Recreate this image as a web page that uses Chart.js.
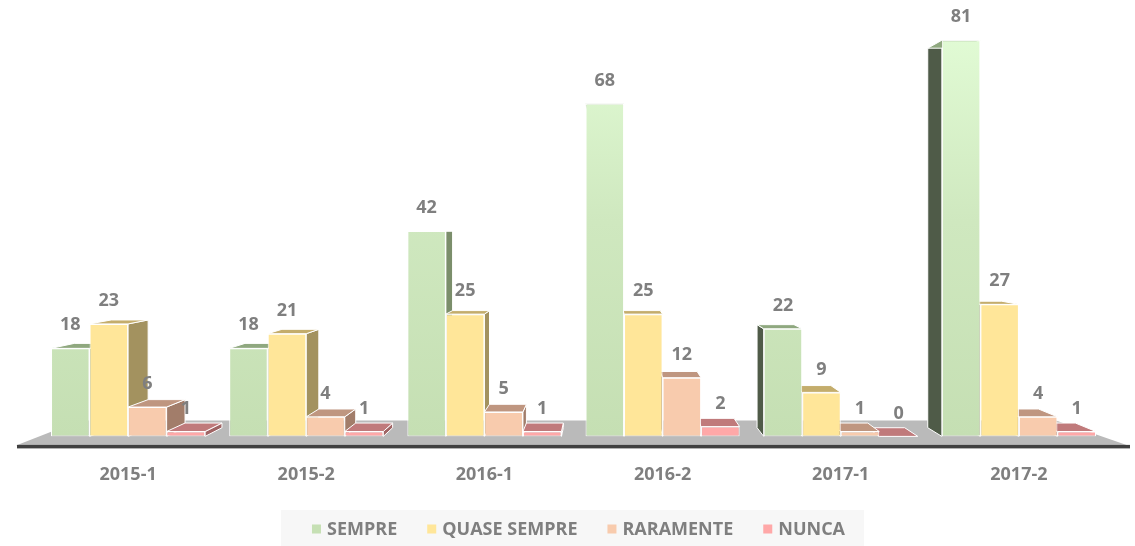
<!DOCTYPE html>
<html>
<head>
<meta charset="utf-8">
<script src="https://cdn.jsdelivr.net/npm/chart.js@4.4.1/dist/chart.umd.min.js"></script>
<style>
html, body { margin: 0; padding: 0; background: #fff; }
#wrap { width: 1135px; height: 546px; }
</style>
</head>
<body>
<div id="wrap"><canvas id="chart"></canvas></div>
<script>
const periodos = ['2015-1', '2015-2', '2016-1', '2016-2', '2017-1', '2017-2'];
const series = ['SEMPRE', 'QUASE SEMPRE', 'RARAMENTE', 'NUNCA'];
const sempre = [18, 18, 42, 68, 22, 81];
const quaseSempre = [23, 21, 25, 25, 9, 27];
const raramente = [6, 4, 5, 12, 1, 4];
const nunca = [1, 1, 1, 2, 0, 1];

const FONT = "'Open Sans', 'DejaVu Sans', sans-serif";
const GREY = '#7f7f7f';

// front, top, right side (lit), left side (shadow)
const cores = [
  { front: '#c6e0b4', top: '#8fa87f', right: '#7b8e6b', left: '#4f5b48' },
  { front: '#ffe699', top: '#c4ad6c', right: '#a3925f', left: '#6e6340' },
  { front: '#f8cbad', top: '#bf9680', right: '#a27d6a', left: '#6f5547' },
  { front: '#ffa8a8', top: '#c07a7b', right: '#a06464', left: '#6e4545' }
];

// perspective: eye point as fraction of chart area, depth factor
const EYE_X = 0.53;
const EYE_Y = 0.52;
const DEPTH = 0.042;

function greenFill(ctx) {
  const a = ctx.chart.chartArea;
  if (!a) return cores[0].front;
  const g = ctx.chart.ctx.createLinearGradient(0, a.top, 0, a.bottom);
  g.addColorStop(0, '#e4fed8');
  g.addColorStop(0.5, '#cfe8bf');
  g.addColorStop(1, '#c5dfb3');
  return g;
}

const bars3d = {
  id: 'bars3d',
  beforeDatasetsDraw(chart) {
    const { ctx, chartArea: a } = chart;
    const base = chart.scales.y.getPixelForValue(0);
    const vx = a.left + (a.right - a.left) * EYE_X;
    const vy = a.top + (a.bottom - a.top) * EYE_Y;
    const proj = (px, py) => [px + DEPTH * (vx - px), py + DEPTH * (vy - py)];

    // floor slab and front edge
    ctx.save();
    ctx.fillStyle = '#bababa';
    ctx.beginPath();
    ctx.moveTo(a.left - 23, base + 9);
    ctx.lineTo(a.left + 41, base - 16);
    ctx.lineTo(a.right - 52, base - 16);
    ctx.lineTo(a.right + 20, base + 9);
    ctx.closePath();
    ctx.fill();
    ctx.fillStyle = '#404040';
    ctx.fillRect(a.left - 22, base + 8.5, a.right - a.left + 44, 3.5);

    // side and top faces, drawn from the outside in
    const items = [];
    chart.data.datasets.forEach((ds, i) => {
      chart.getDatasetMeta(i).data.forEach(el => items.push({ el, c: cores[i] }));
    });
    items.sort((p, q) => Math.abs(q.el.x - vx) - Math.abs(p.el.x - vx));
    ctx.strokeStyle = '#ffffff';
    ctx.lineWidth = 1;
    ctx.lineJoin = 'round';
    items.forEach(({ el, c }) => {
      const l = el.x - el.width / 2, r = el.x + el.width / 2;
      const t = el.y, b = el.base;
      const poly = (pts, fill) => {
        ctx.beginPath();
        ctx.moveTo(pts[0][0], pts[0][1]);
        pts.slice(1).forEach(p => ctx.lineTo(p[0], p[1]));
        ctx.closePath();
        ctx.fillStyle = fill;
        ctx.fill();
        ctx.stroke();
      };
      if (r < vx) poly([[r, t], proj(r, t), proj(r, b), [r, b]], c.right);
      if (l > vx) poly([[l, t], proj(l, t), proj(l, b), [l, b]], c.left);
      poly([[l, t], [r, t], proj(r, t), proj(l, t)], c.top);
    });
    ctx.restore();
  },
  afterDatasetsDraw(chart) {
    const { ctx } = chart;
    ctx.save();
    ctx.font = `bold 18px ${FONT}`;
    ctx.fillStyle = GREY;
    ctx.textAlign = 'center';
    ctx.textBaseline = 'middle';
    chart.data.datasets.forEach((ds, i) => {
      chart.getDatasetMeta(i).data.forEach((el, j) => {
        ctx.fillText(String(ds.data[j]), el.x, el.y - 23);
      });
    });
    ctx.restore();
  },
  afterDraw(chart) {
    // legend strip under the axis
    const { ctx, chartArea: a } = chart;
    ctx.save();
    ctx.font = `bold 18px ${FONT}`;
    const box = 9, gapText = 6, gapItem = 30;
    const widths = series.map(s => ctx.measureText(s).width);
    const total = widths.reduce((s, w) => s + box + gapText + w, 0) + gapItem * (series.length - 1);
    const cx = (a.left + a.right) / 2 + 5;
    let x = cx - total / 2;
    const midY = 529;
    ctx.fillStyle = '#f7f7f7';
    ctx.fillRect(x - 31, midY - 19, total + 50, 40);
    ctx.textBaseline = 'middle';
    ctx.textAlign = 'left';
    series.forEach((s, i) => {
      ctx.fillStyle = cores[i].front;
      ctx.fillRect(x, midY - box / 2, box, box);
      ctx.fillStyle = GREY;
      ctx.fillText(s, x + box + gapText, midY + 1);
      x += box + gapText + widths[i] + gapItem;
    });
    ctx.restore();
  }
};

const valores = [sempre, quaseSempre, raramente, nunca];

new Chart(document.getElementById('chart').getContext('2d'), {
  type: 'bar',
  data: {
    labels: periodos,
    datasets: series.map((s, i) => ({
      label: s,
      data: valores[i],
      backgroundColor: i === 0 ? greenFill : cores[i].front,
      borderColor: '#ffffff',
      borderWidth: 1,
      borderSkipped: false,
      categoryPercentage: 0.865,
      barPercentage: 1.0
    }))
  },
  options: {
    responsive: true,
    maintainAspectRatio: false,
    animation: false,
    layout: { padding: { top: 6, left: 39, right: 27, bottom: 40 } },
    plugins: {
      legend: { display: false },
      tooltip: { enabled: false }
    },
    scales: {
      x: {
        grid: { display: false },
        border: { display: false },
        ticks: {
          color: GREY,
          font: { family: FONT, size: 18, weight: 'bold' },
          padding: 20
        }
      },
      y: {
        display: false,
        min: 0,
        max: 88
      }
    }
  },
  plugins: [bars3d]
});
</script>
</body>
</html>
